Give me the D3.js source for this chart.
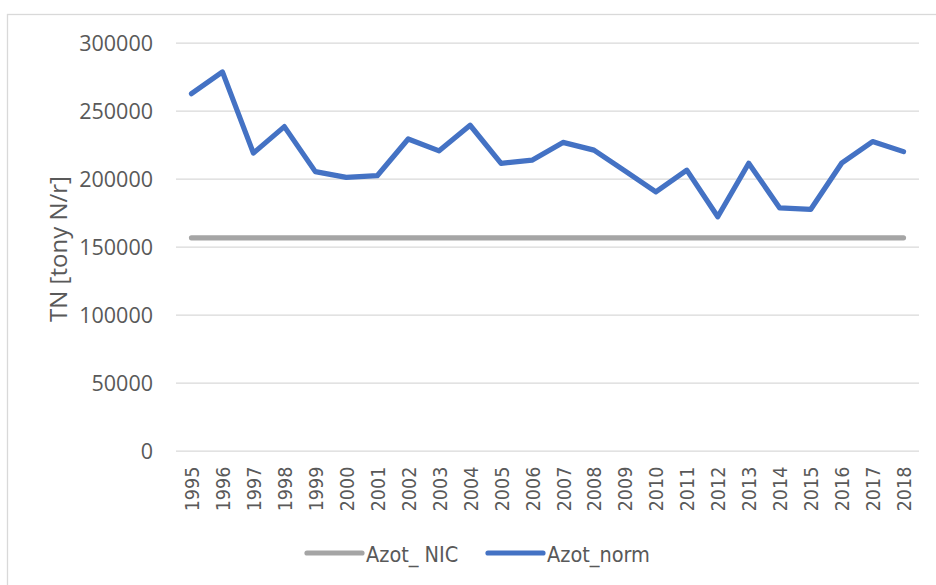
<!DOCTYPE html>
<html>
<head>
<meta charset="utf-8">
<script src="https://cdn.jsdelivr.net/npm/d3@7"></script>
<style>
  body { margin: 0; background: #fff; }
  #chart-wrapper { width: 936px; height: 585px; }
  .cond { font-family: "DejaVu Sans Condensed", "DejaVu Sans"; font-stretch: condensed; }
</style>
</head>
<body>
<div id="chart-wrapper"></div>
<script>
// data
const years = ["1995","1996","1997","1998","1999","2000","2001","2002","2003","2004","2005","2006",
               "2007","2008","2009","2010","2011","2012","2013","2014","2015","2016","2017","2018"]
const azotNorm = [262500, 278500, 218800, 238300, 205200, 201000, 202200, 229200, 220500, 239300, 211300, 213600,
                  226700, 221000, 205800, 190300, 206300, 172000, 211400, 178500, 177400, 211400, 227300, 219900]
const azotNic = years.map(() => 156500) // flat line
const yTicks = [0, 50000, 100000, 150000, 200000, 250000, 300000]
const seriesNames = ["Azot_ NIC", "Azot_norm"]
const seriesColors = ["#A5A5A5", "#4472C4"]

function drawChart() {
  const width = 936
  const height = 585
  const left = 176, right = 919, top = 42.7, bottom = 450.7

  const svg = d3.select("#chart-wrapper")
    .append("svg")
      .attr("width", width)
      .attr("height", height)

  // chart area border
  svg.append("rect")
    .attr("x", 7.5).attr("y", 14.5)
    .attr("width", 940).attr("height", 600)
    .attr("fill", "none")
    .attr("stroke", "#d9d9d9")
    .attr("stroke-width", 1.3)

  // scales
  const x = d3.scalePoint()
    .domain(years)
    .range([left, right])
    .padding(0.5)

  const y = d3.scaleLinear()
    .domain([0, 300000])
    .range([bottom, top])

  // y axis with gridlines
  const yAxis = svg.append("g")
    .attr("transform", `translate(${left},0)`)
    .call(d3.axisLeft(y).tickValues(yTicks).tickSize(-(right - left)).tickPadding(23).tickFormat(d => d))
  yAxis.select(".domain").remove()
  yAxis.selectAll(".tick line")
    .attr("stroke", "#d9d9d9")
    .attr("stroke-width", 1.3)
  yAxis.selectAll(".tick text")
    .attr("fill", "#595959")
    .attr("font-family", "'Open Sans'")
    .attr("font-size", "21.5px")
    .attr("dy", "0.35em")

  // x axis labels, rotated
  const xAxis = svg.append("g")
    .attr("transform", `translate(0,${bottom})`)
    .call(d3.axisBottom(x).tickSize(0))
  xAxis.select(".domain").remove()
  xAxis.selectAll(".tick text")
    .attr("class", "cond")
    .attr("fill", "#595959")
    .attr("font-size", "19.5px")
    .attr("text-anchor", "end")
    .attr("x", 0)
    .attr("y", 0)
    .attr("dy", "0.36em")
    .attr("transform", "translate(0,16) rotate(-90)")

  // y axis title
  svg.append("text")
    .attr("transform", "translate(67,249) rotate(-90)")
    .attr("text-anchor", "middle")
    .attr("fill", "#595959")
    .attr("font-family", "'Open Sans'")
    .attr("font-size", "24px")
    .text("TN [tony N/r]")

  // lines
  const line = d3.line()
    .x((d, i) => x(years[i]))
    .y(d => y(d))

  const allSeries = [azotNic, azotNorm]
  svg.append("g")
    .selectAll("path")
    .data(allSeries)
    .join("path")
      .attr("d", d => line(d))
      .attr("fill", "none")
      .attr("stroke", (d, i) => seriesColors[i])
      .attr("stroke-width", 5.2)
      .attr("stroke-linecap", "round")
      .attr("stroke-linejoin", "round")

  // legend
  const legendX = [307, 488]
  const legend = svg.append("g")
    .selectAll("g")
    .data(seriesNames)
    .join("g")
      .attr("transform", (d, i) => `translate(${legendX[i]},553)`)
  legend.append("line")
    .attr("x1", 0).attr("x2", 55)
    .attr("y1", 0).attr("y2", 0)
    .attr("stroke", (d, i) => seriesColors[i])
    .attr("stroke-width", 5.2)
    .attr("stroke-linecap", "round")
  legend.append("text")
    .attr("class", "cond")
    .attr("x", 59)
    .attr("y", 8.5)
    .attr("fill", "#595959")
    .attr("font-size", "21.5px")
    .text(d => d)
}

window.onload = function () {
  drawChart()
}
</script>
</body>
</html>
